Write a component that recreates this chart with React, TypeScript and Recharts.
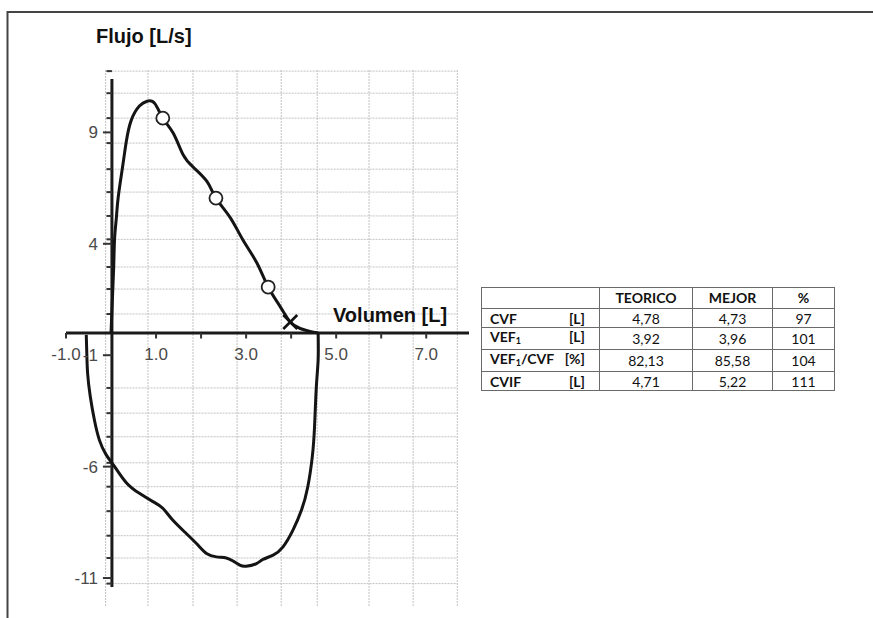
import React from 'react';
import { ComposedChart, XAxis, YAxis, Scatter, Line, ReferenceLine } from 'recharts';

// Flow-volume loop (Volumen [L], Flujo [L/s])
const expiration = [
  { x: 0.0, y: 0.0 }, { x: 0.03, y: 1.5 }, { x: 0.06, y: 3.0 }, { x: 0.08, y: 4.26 },
  { x: 0.12, y: 5.2 }, { x: 0.16, y: 6.1 }, { x: 0.26, y: 7.5 }, { x: 0.34, y: 8.6 },
  { x: 0.45, y: 9.55 }, { x: 0.63, y: 10.18 }, { x: 0.8, y: 10.4 }, { x: 0.97, y: 10.3 },
  { x: 1.15, y: 9.64 }, { x: 1.38, y: 8.97 }, { x: 1.6, y: 8.0 }, { x: 1.82, y: 7.45 },
  { x: 2.13, y: 6.8 }, { x: 2.33, y: 6.05 }, { x: 2.64, y: 5.2 }, { x: 2.93, y: 4.17 },
  { x: 3.24, y: 3.14 }, { x: 3.49, y: 2.06 }, { x: 3.76, y: 1.17 }, { x: 3.98, y: 0.49 },
  { x: 4.2, y: 0.2 }, { x: 4.42, y: 0.07 }, { x: 4.6, y: 0.0 },
];

const inspiration = [
  { x: 4.6, y: 0.0 }, { x: 4.6, y: -1.2 }, { x: 4.56, y: -2.4 }, { x: 4.52, y: -4.2 },
  { x: 4.47, y: -5.55 }, { x: 4.37, y: -6.9 }, { x: 4.23, y: -7.95 }, { x: 4.04, y: -8.85 },
  { x: 3.82, y: -9.6 }, { x: 3.6, y: -9.97 }, { x: 3.37, y: -10.17 }, { x: 3.23, y: -10.35 },
  { x: 3.0, y: -10.47 }, { x: 2.86, y: -10.42 }, { x: 2.71, y: -10.24 }, { x: 2.56, y: -10.1 },
  { x: 2.34, y: -10.05 }, { x: 2.12, y: -9.9 }, { x: 1.93, y: -9.52 }, { x: 1.67, y: -9.0 },
  { x: 1.37, y: -8.4 }, { x: 1.15, y: -7.87 }, { x: 0.93, y: -7.57 }, { x: 0.63, y: -7.2 },
  { x: 0.34, y: -6.72 }, { x: 0.08, y: -6.0 }, { x: -0.11, y: -5.46 }, { x: -0.26, y: -4.8 },
  { x: -0.37, y: -3.9 }, { x: -0.46, y: -2.86 }, { x: -0.52, y: -1.81 }, { x: -0.54, y: -0.76 },
  { x: -0.55, y: -0.09 },
];

const circleMarkers = [
  { x: 1.15, y: 9.64 }, { x: 2.33, y: 6.05 }, { x: 3.49, y: 2.06 },
];
const crossMarkers = [{ x: 3.98, y: 0.49 }];

const xTicks = [-1, 1, 2, 3, 4, 5, 6, 7];
const xTickLabels: Record<number, string> = { [-1]: '-1.0', 1: '1.0', 3: '3.0', 5: '5.0', 7: '7.0' };
const yTicks = [9, 4, -1, -6, -11];
const gridX = [-0.12, 0.82, 1.82, 2.8, 3.78, 4.58, 5.73, 6.71, 7.69];
const gridY = [11.75, 10.76, 9.64, 8.52, 7.35, 6.32, 5.25, 4.2, 2.96, 1.97, 0.85,
  -2.47, -3.6, -4.66, -5.83, -6.9, -8.0, -9.1, -10.1, -11.25];

const tableHeader = ['', 'TEORICO', 'MEJOR', '%'];
const tableRows = [
  { name: 'CVF', sub: '', tail: '', unit: '[L]', teo: '4,78', mej: '4,73', pct: '97' },
  { name: 'VEF', sub: '1', tail: '', unit: '[L]', teo: '3,92', mej: '3,96', pct: '101' },
  { name: 'VEF', sub: '1', tail: '/CVF', unit: '[%]', teo: '82,13', mej: '85,58', pct: '104' },
  { name: 'CVIF', sub: '', tail: '', unit: '[L]', teo: '4,71', mej: '5,22', pct: '111' },
];

const X_DOMAIN: [number, number] = [-1, 7.95];
const Y_DOMAIN: [number, number] = [-12.3, 11.8];

const tickFont = { fill: '#4a4a4a', fontSize: 17, fontFamily: '"Liberation Sans", Arial, sans-serif' };

const CircleShape = (p: any) => (
  <circle cx={p.cx} cy={p.cy} r={6.5} fill="#fff" stroke="#222" strokeWidth={1.8} />
);
const CrossShape = (p: any) => (
  <g stroke="#111" strokeWidth={2.6}>
    <line x1={p.cx - 7} y1={p.cy - 7} x2={p.cx + 7} y2={p.cy + 7} />
    <line x1={p.cx - 7} y1={p.cy + 7} x2={p.cx + 7} y2={p.cy - 7} />
  </g>
);

const cellBorder = '1px solid #6a6a6a';
const valueCell: React.CSSProperties = { border: cellBorder, padding: 0, textAlign: 'center', lineHeight: '17px' };

export default function App() {
  return (
    <div style={{ position: 'absolute', left: 0, top: 0, width: 873, height: 618, overflow: 'hidden', background: '#fff' }}>
      <ComposedChart width={873} height={618}
        margin={{ top: 70, right: 404, bottom: 11, left: 66 }}
        style={{ position: 'absolute', left: 0, top: 0 }}>
        <XAxis type="number" dataKey="x" domain={X_DOMAIN} hide allowDataOverflow />
        <YAxis type="number" dataKey="y" domain={Y_DOMAIN} hide allowDataOverflow />
        {gridX.map((v) => (
          <ReferenceLine key={'gx' + v} segment={[{ x: v, y: 11.8 }, { x: v, y: -12.3 }]}
            stroke="#c2c2c2" strokeWidth={1} strokeDasharray="2 1" />
        ))}
        {gridY.map((v) => (
          <ReferenceLine key={'gy' + v} segment={[{ x: -0.12, y: v }, { x: 7.69, y: v }]}
            stroke="#c2c2c2" strokeWidth={1} strokeDasharray="2 1" />
        ))}
        <ReferenceLine segment={[{ x: -1, y: 0 }, { x: 7.95, y: 0 }]} stroke="#1a1a1a" strokeWidth={3} />
        <ReferenceLine segment={[{ x: 0.02, y: -11.4 }, { x: 0.02, y: 11.4 }]} stroke="#1a1a1a" strokeWidth={3} />
        {xTicks.map((v) => (
          <ReferenceLine key={'xt' + v} segment={[{ x: v, y: 0 }, { x: v, y: -0.25 }]}
            stroke="#333" strokeWidth={2}
            label={xTickLabels[v] ? { value: xTickLabels[v], position: 'bottom', offset: 9, ...tickFont } : undefined} />
        ))}
        {gridY.map((v) => (
          <ReferenceLine key={'ym' + v} segment={[{ x: -0.1, y: v }, { x: 0.02, y: v }]}
            stroke="#333" strokeWidth={2} />
        ))}
        {yTicks.map((v) => (
          <ReferenceLine key={'yt' + v} segment={[{ x: -0.18, y: v }, { x: 0.02, y: v }]}
            stroke="#333" strokeWidth={2}
            label={{ value: String(v), position: 'left', offset: 5, ...tickFont }} />
        ))}
        <Line data={expiration} dataKey="y" type="natural" dot={false} activeDot={false}
          stroke="#141414" strokeWidth={3} strokeLinejoin="round" isAnimationActive={false} />
        <Line data={inspiration} dataKey="y" type="natural" dot={false} activeDot={false}
          stroke="#141414" strokeWidth={3} strokeLinejoin="round" isAnimationActive={false} />
        <Scatter data={circleMarkers} shape={CircleShape} isAnimationActive={false} />
        <Scatter data={crossMarkers} shape={CrossShape} isAnimationActive={false} />
      </ComposedChart>
      <svg width={873} height={618} style={{ position: 'absolute', left: 0, top: 0, pointerEvents: 'none' }}>
        <line x1={7} y1={12} x2={873} y2={12} stroke="#444" strokeWidth={2} />
        <line x1={7.5} y1={11} x2={7.5} y2={618} stroke="#444" strokeWidth={2} />
        <text x={96} y={43} fontFamily='"Liberation Sans", Arial, sans-serif' fontWeight="bold" fontSize={20} fill="#111">Flujo [L/s]</text>
        <text x={333} y={322} fontFamily='"Liberation Sans", Arial, sans-serif' fontWeight="bold" fontSize={20} fill="#111">Volumen [L]</text>
      </svg>
      <table style={{ position: 'absolute', left: 481, top: 287, borderCollapse: 'collapse',
        fontFamily: 'Lato, "Open Sans", sans-serif', fontSize: 14, color: '#111', border: '1.5px solid #555' }}>
        <colgroup>
          <col style={{ width: 118 }} /><col style={{ width: 93 }} /><col style={{ width: 80 }} /><col style={{ width: 62 }} />
        </colgroup>
        <thead>
          <tr style={{ height: 21 }}>
            {tableHeader.map((h, i) => (
              <th key={i} style={{ border: cellBorder, padding: 0, fontWeight: 700, textAlign: 'center', lineHeight: '18px' }}>{h}</th>
            ))}
          </tr>
        </thead>
        <tbody>
          {tableRows.map((r, i) => (
            <tr key={i} style={{ height: 19 }}>
              <td style={{ border: cellBorder, padding: '0 14px 0 8px', fontWeight: 700 }}>
                <div style={{ display: 'flex', justifyContent: 'space-between', lineHeight: '17px' }}>
                  <span>{r.name}{r.sub ? <sub style={{ fontSize: 9, verticalAlign: -2 }}>{r.sub}</sub> : null}{r.tail}</span>
                  <span>{r.unit}</span>
                </div>
              </td>
              <td style={valueCell}>{r.teo}</td>
              <td style={valueCell}>{r.mej}</td>
              <td style={valueCell}>{r.pct}</td>
            </tr>
          ))}
        </tbody>
      </table>
    </div>
  );
}
